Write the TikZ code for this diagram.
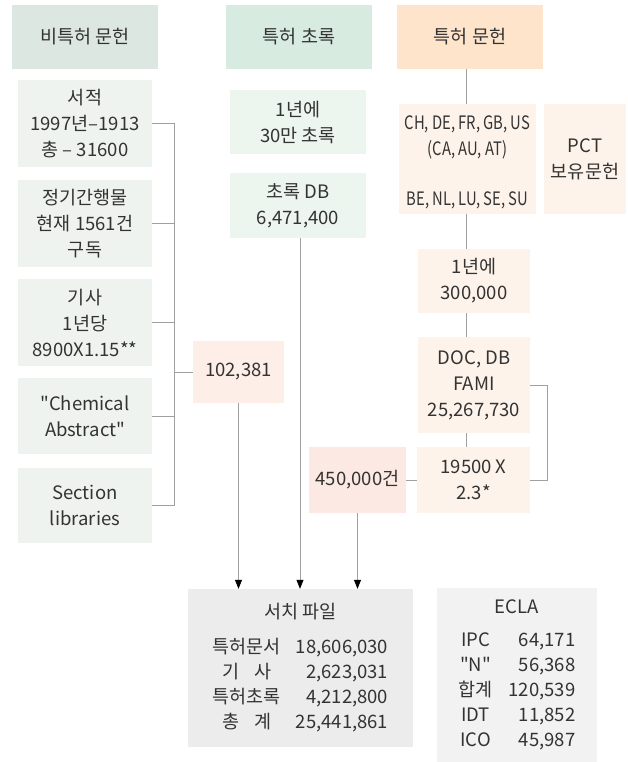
\documentclass[tikz,border=0pt]{standalone}
\usepackage{fontspec}
\setmainfont{Noto Sans CJK KR}[Ligatures=TeXOff]
\newfontfamily\condfont{Noto Sans CJK KR}[FakeStretch=0.8,Ligatures=TeXOff]
\usetikzlibrary{arrows.meta}
\definecolor{txt}{HTML}{333333}
\definecolor{ln}{HTML}{A0A0A0}
\definecolor{hdrA}{HTML}{DDE7E1}
\definecolor{hdrB}{HTML}{D7EBE0}
\definecolor{hdrC}{HTML}{FDE4CB}
\definecolor{boxA}{HTML}{EEF3F0}
\definecolor{boxB}{HTML}{EDF5EF}
\definecolor{boxC}{HTML}{FDF3EA}
\definecolor{boxP}{HTML}{FDEEE8}
\definecolor{boxQ}{HTML}{FCE9E3}
\definecolor{boxS}{HTML}{ECECEC}
\definecolor{boxE}{HTML}{F2F2F2}
\tikzset{
  bx/.style={inner sep=0pt, align=center, text=txt, font=\fontsize{18.5}{26}\selectfont},
  conn/.style={draw=ln, line width=0.8pt},
  arr/.style={conn, -{Triangle[width=7pt,length=9pt,color=black]}}
}
\begin{document}
\begin{tikzpicture}[x=1pt,y=-1pt]
\useasboundingbox (0,0) rectangle (627,762);
% headers
\node[bx, fill=hdrA, minimum width=146, minimum height=64] (h1) at (85,37) {비특허 문헌};
\node[bx, fill=hdrB, minimum width=146, minimum height=64] (h2) at (299,37) {특허 초록};
\node[bx, fill=hdrC, minimum width=146, minimum height=64] (h3) at (470,37) {특허 문헌};
% left column
\node[bx, fill=boxA, minimum width=134, minimum height=87] (L1) at (85,123.5) {서적\\1997년–1913\\총 – 31600};
\node[bx, fill=boxA, minimum width=134, minimum height=87] (L2) at (85,223.5) {정기간행물\\현재 1561건\\구독};
\node[bx, fill=boxA, minimum width=134, minimum height=87] (L3) at (85,322.5) {기사\\1년당\\8900X1.15**};
\node[bx, fill=boxA, minimum width=134, minimum height=76] (L4) at (85,416) {"Chemical\\Abstract"};
\node[bx, fill=boxA, minimum width=134, minimum height=75] (L5) at (85,505.5) {Section\\libraries};
\node[bx, fill=boxP, minimum width=91, minimum height=62] (n102) at (238.5,372) {102,381};
% middle column
\node[bx, fill=boxB, minimum width=136, minimum height=64] (M1) at (298,122) {1년에\\30만 초록};
\node[bx, fill=boxB, minimum width=136, minimum height=65] (M2) at (298,205.5) {초록 DB\\6,471,400};
% right column
\node[fill=boxC, minimum width=137, minimum height=110, inner sep=0pt] (R1) at (467.5,159) {};
\node[bx] (R1t) at ([yshift=-3pt]R1.center) {\condfont CH, DE, FR, GB, US\\\condfont (CA, AU, AT)\\[24pt]\condfont BE, NL, LU, SE, SU};
\node[bx, fill=boxC, minimum width=82, minimum height=110] (PCT) at (585,159) {PCT\\보유문헌};
\node[bx, fill=boxC, minimum width=112, minimum height=64] (R2) at (474,281) {1년에\\300,000};
\node[bx, fill=boxC, minimum width=112, minimum height=96] (R3) at (474,385) {DOC, DB\\FAMI\\25,267,730};
\node[bx, fill=boxC, minimum width=113, minimum height=66] (R4) at (473.5,480) {19500 X\\2.3*};
\node[bx, fill=boxQ, minimum width=97, minimum height=66] (n450) at (357.5,480) {450,000건};
% bottom boxes
\node[bx, fill=boxS, minimum width=225, minimum height=158, font=\fontsize{18.5}{25}\selectfont] (S) at (300.5,668) {%
\begin{tabular}{@{}c@{\hspace{15pt}}r@{}}
\multicolumn{2}{c}{서치 파일}\\[10pt]
특허문서 & 18,606,030\\
기\hspace{0.8em}사 & 2,623,031\\
특허초록 & 4,212,800\\
총\hspace{0.8em}계 & 25,441,861
\end{tabular}};
\node[bx, fill=boxE, minimum width=160, minimum height=174, font=\fontsize{18.5}{25}\selectfont] (E) at (517,675) {%
\begin{tabular}{@{}c@{\hspace{16pt}}r@{}}
\multicolumn{2}{c}{ECLA}\\[8pt]
IPC & 64,171\\
"N" & 56,368\\
합계 & 120,539\\
IDT & 11,852\\
ICO & 45,987
\end{tabular}};
% left bus
\coordinate (bus) at (174,0);
\foreach \n in {L1,L2,L3,L4,L5}{\draw[conn] (\n.east) -- (\n.east -| bus);}
\draw[conn] (L1.east -| bus) -- (L5.east -| bus);
\draw[conn] (n102.west -| bus) -- (n102.west);
% right column lines
\coordinate (rl) at (466,0);
\draw[conn] (h3.south -| rl) -- (R1.north -| rl);
\draw[conn] (R1.south -| rl) -- (R2.north -| rl);
\draw[conn] (R2.south -| rl) -- (R3.north -| rl);
\draw[conn] (R3.south -| rl) -- (R4.north -| rl);
\draw[conn] (R3.east) -- ++(17,0) |- (R4.east);
\draw[conn] (n450.east) -- (R4.west);
% arrows
\draw[arr] (n102.south) -- (n102.south |- S.north);
\coordinate (mx) at (300,0);
\draw[arr] (M2.south -| mx) -- (S.north -| mx);
\draw[arr] (n450.south) -- (n450.south |- S.north);
\end{tikzpicture}
\end{document}
